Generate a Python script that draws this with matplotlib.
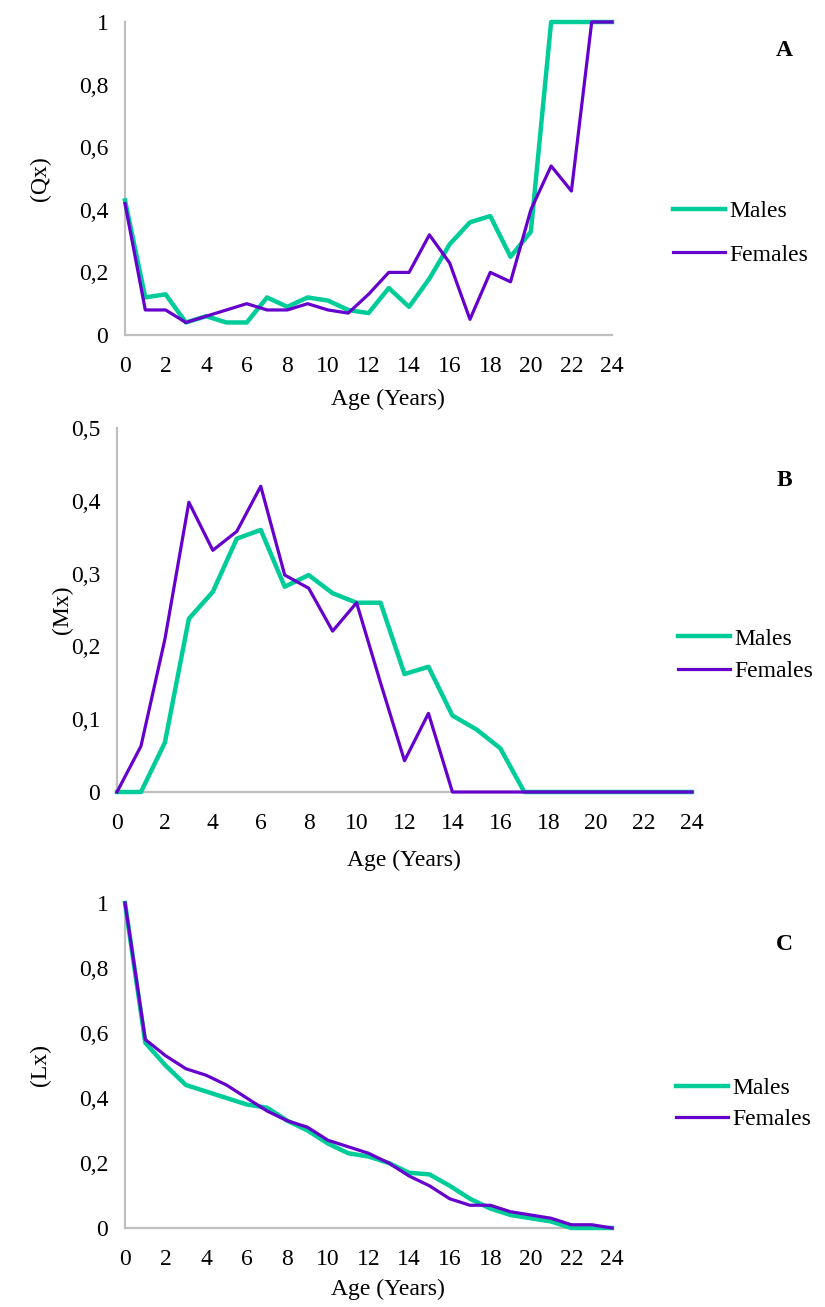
import matplotlib
matplotlib.use("Agg")
import matplotlib.pyplot as plt

plt.rcParams['font.family'] = ['Liberation Serif', 'DejaVu Serif']

W, H = 825, 1307

ages = list(range(25))
age_ticks = list(range(0, 25, 2))

# Qx - age-specific mortality
qx_males = [0.43, 0.12, 0.13, 0.04, 0.06, 0.04, 0.04, 0.12, 0.09, 0.12, 0.11, 0.08, 0.07,
            0.15, 0.09, 0.18, 0.29, 0.36, 0.38, 0.25, 0.33, 1.0, 1.0, 1.0, 1.0]
qx_females = [0.42, 0.08, 0.08, 0.04, 0.06, 0.08, 0.10, 0.08, 0.08, 0.10, 0.08, 0.07, 0.13,
              0.20, 0.20, 0.32, 0.23, 0.05, 0.20, 0.17, 0.40, 0.54, 0.46, 1.0, 1.0]

# Mx - age-specific fecundity
mx_males = [0, 0, 0.068, 0.238, 0.275, 0.348, 0.36, 0.282, 0.298, 0.273, 0.26, 0.26, 0.162,
            0.172, 0.105, 0.086, 0.06, 0, 0, 0, 0, 0, 0, 0, 0]
mx_females = [0, 0.063, 0.21, 0.398, 0.332, 0.358, 0.42, 0.298, 0.28, 0.221, 0.26, 0.15, 0.043,
              0.108, 0, 0, 0, 0, 0, 0, 0, 0, 0, 0, 0]

# Lx - survivorship
lx_males = [1.0, 0.57, 0.50, 0.44, 0.42, 0.40, 0.38, 0.37, 0.33, 0.30, 0.26, 0.23, 0.22,
            0.20, 0.17, 0.165, 0.13, 0.09, 0.06, 0.04, 0.03, 0.02, 0.0, 0.0, 0.0]
lx_females = [1.0, 0.58, 0.53, 0.49, 0.47, 0.44, 0.40, 0.36, 0.33, 0.31, 0.27, 0.25, 0.23,
              0.20, 0.16, 0.13, 0.09, 0.07, 0.07, 0.05, 0.04, 0.03, 0.01, 0.01, 0.0]

MALE = '#00CC99'
FEMALE = '#6600CC'
GREY = '#BFBFBF'
FS = 17

fig = plt.figure(figsize=(W / 100, H / 100), dpi=100)


def px_axes(left, right, top, bottom):
    return fig.add_axes([left / W, 1 - bottom / H, (right - left) / W, (bottom - top) / H])


def panel(box, males, females, ymax, ystep, ylabel, ylab_x, xlab_xy, letter, letter_y,
          leg_x, leg_y, leg_gap):
    ax = px_axes(*box)
    ax.plot(ages, males, color=MALE, lw=3.2, label='Males', clip_on=False, zorder=3)
    ax.plot(ages, females, color=FEMALE, lw=2.3, label='Females', clip_on=False, zorder=4)
    ax.set_xlim(0, 24)
    ax.set_ylim(0, ymax)
    ax.set_xticks(age_ticks)
    n = int(round(ymax / ystep))
    yt = [round(i * ystep, 2) for i in range(n + 1)]
    ax.set_yticks(yt)
    ax.set_yticklabels([('%g' % v).replace('.', ',') for v in yt])
    ax.tick_params(length=0, labelsize=FS, pad=12)
    ax.tick_params(axis='x', pad=15)
    for s in ['top', 'right']:
        ax.spines[s].set_visible(False)
    for s in ['left', 'bottom']:
        ax.spines[s].set_color(GREY)
        ax.spines[s].set_linewidth(1.6)
    # axis titles placed in pixel coordinates
    fig.text(xlab_xy[0] / W, 1 - xlab_xy[1] / H, 'Age (Years)', fontsize=FS,
             ha='center', va='center')
    fig.text(ylab_x / W, 1 - (box[2] + box[3]) / 2 / H, ylabel, rotation=90,
             fontsize=FS, ha='center', va='center')
    fig.text(784 / W, 1 - letter_y / H, letter, fontsize=FS, fontweight='bold',
             ha='center', va='center')
    ax.legend(loc='center left', bbox_to_anchor=(leg_x / W, 1 - leg_y / H),
              bbox_transform=fig.transFigure, frameon=False, fontsize=FS,
              handlelength=2.2, handletextpad=0.2, labelspacing=leg_gap,
              borderaxespad=0, borderpad=0)
    return ax


panel((125, 612, 22, 335), qx_males, qx_females, 1.0, 0.2, '(Qx)', 40, (388, 399), 'A', 50,
      673, 233, 0.95)
panel((117, 692, 428, 792), mx_males, mx_females, 0.5, 0.1, '(Mx)', 62, (404, 860), 'B', 480,
      678, 655, 0.45)
panel((125, 612, 903, 1228), lx_males, lx_females, 1.0, 0.2, '(Lx)', 40, (388, 1289), 'C', 945,
      676, 1104, 0.4)

fig.savefig('out.png', dpi=100)
